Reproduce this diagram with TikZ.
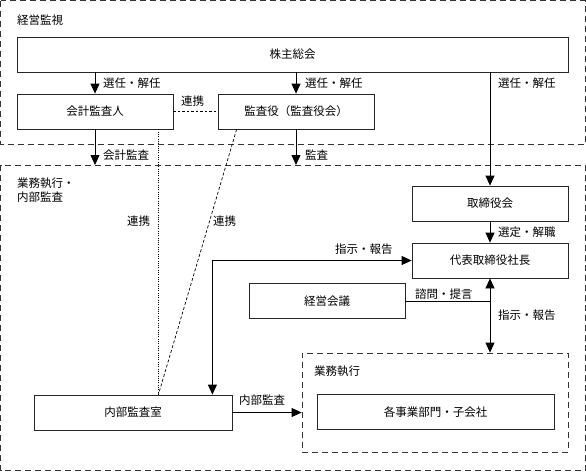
\documentclass[tikz,border=0pt]{standalone}
\usepackage{fontspec}
\setmainfont{Noto Sans CJK JP}
\usetikzlibrary{arrows.meta}
\begin{document}
\begin{tikzpicture}[x=1pt,y=-1pt,
  every node/.style={font=\fontsize{11.5}{13.5}\selectfont, inner sep=0pt},
  box/.style={draw=black!85, line width=0.8pt, minimum width=#1, minimum height=35pt},
  box/.default=156pt,
  region/.style={draw=black!80, line width=0.8pt, dash pattern=on 6pt off 4pt},
  arr/.style={line width=0.8pt, -{Triangle[length=10pt,width=9pt]}},
  darr/.style={line width=0.8pt, {Triangle[length=10pt,width=9pt]}-{Triangle[length=10pt,width=9pt]}},
  plain/.style={line width=0.8pt},
  lbl/.style={anchor=west}]
\useasboundingbox (0,0) rectangle (586,472);
% regions
\draw[region] (0.8,0.8) rectangle (585.2,144);
\node[lbl] (tkansi) at (17,20) {経営監視};
\draw[region] (0.8,165) rectangle (585.2,470.8);
\coordinate (box2top) at (300,165);
\node[lbl, align=left] (tgyomu) at (17,190) {業務執行・\\内部監査};
% nodes
\node[box=551pt] (kabu) at (292.5,54.5) {株主総会};
\node[box] (kaikei) at (95,111.5) {会計監査人};
\node[box] (kansa) at (296,111.5) {監査役（監査役会）};
\node[box] (tori) at (490,203.5) {取締役会};
\node[box] (daihyo) at (490,260.5) {代表取締役社長};
\node[box] (keiei) at (327,301) {経営会議};
\node[draw=black!80, line width=0.8pt, dash pattern=on 6pt off 4pt, minimum width=266pt, minimum height=99pt] (gyomu) at (435,402.5) {};
\node[lbl] (tgyomu2) at (314,371) {業務執行};
\node[box=237pt] (kakuji) at (435.5,412) {各事業部門・子会社};
\node[box=198pt] (naibu) at (133,412.5) {内部監査室};
\coordinate (meet) at ([xshift=-15pt]kaikei.south east |- naibu.north);
% connectors
\draw[arr] (kabu.south -| kaikei) -- (kaikei.north);
\node[lbl] (l1) at (103,83) {選任・解任};
\draw[arr] (kabu.south -| kansa) -- (kansa.north);
\node[lbl] (l2) at (305,83) {選任・解任};
\draw[arr] (kabu.south -| tori) -- (tori.north);
\node[lbl] (l3) at (498,83) {選任・解任};
\draw[plain, dash pattern=on 2.5pt off 2pt] (kaikei.east) -- (kansa.west);
\node[lbl] (l4) at (181,101) {連携};
\draw[arr] (kaikei.south) -- (kaikei.south |- box2top);
\node[lbl] (l5) at (103,155) {会計監査};
\draw[arr] (kansa.south) -- (kansa.south |- box2top);
\node[lbl] (l6) at (305,155) {監査};
\draw[line width=0.7pt, dash pattern=on 1pt off 1.3pt] ([xshift=-15pt]kaikei.south east) -- (meet);
\node[lbl] (l7) at (127,221) {連携};
\draw[line width=0.7pt, dash pattern=on 3pt off 2pt] ([xshift=19pt]kansa.south west) -- (meet);
\node[lbl] (l8) at (213,221) {連携};
\draw[arr] (tori.south) -- (daihyo.north);
\node[lbl] (l9) at (498,232) {選定・解職};
\draw[darr] ([xshift=-20pt]naibu.north east) |- (daihyo.west);
\node[lbl] (l10) at (335,249) {指示・報告};
\draw[plain] (keiei.east) -- (keiei.east -| daihyo.south);
\node[lbl] (l11) at (415,294) {諮問・提言};
\draw[darr] (daihyo.south) -- (daihyo.south |- gyomu.north);
\node[lbl] (l12) at (498,315) {指示・報告};
\draw[arr] (naibu.east) -- (naibu.east -| gyomu.west);
\node[lbl] (l13) at (239,400) {内部監査};
\end{tikzpicture}
\end{document}
